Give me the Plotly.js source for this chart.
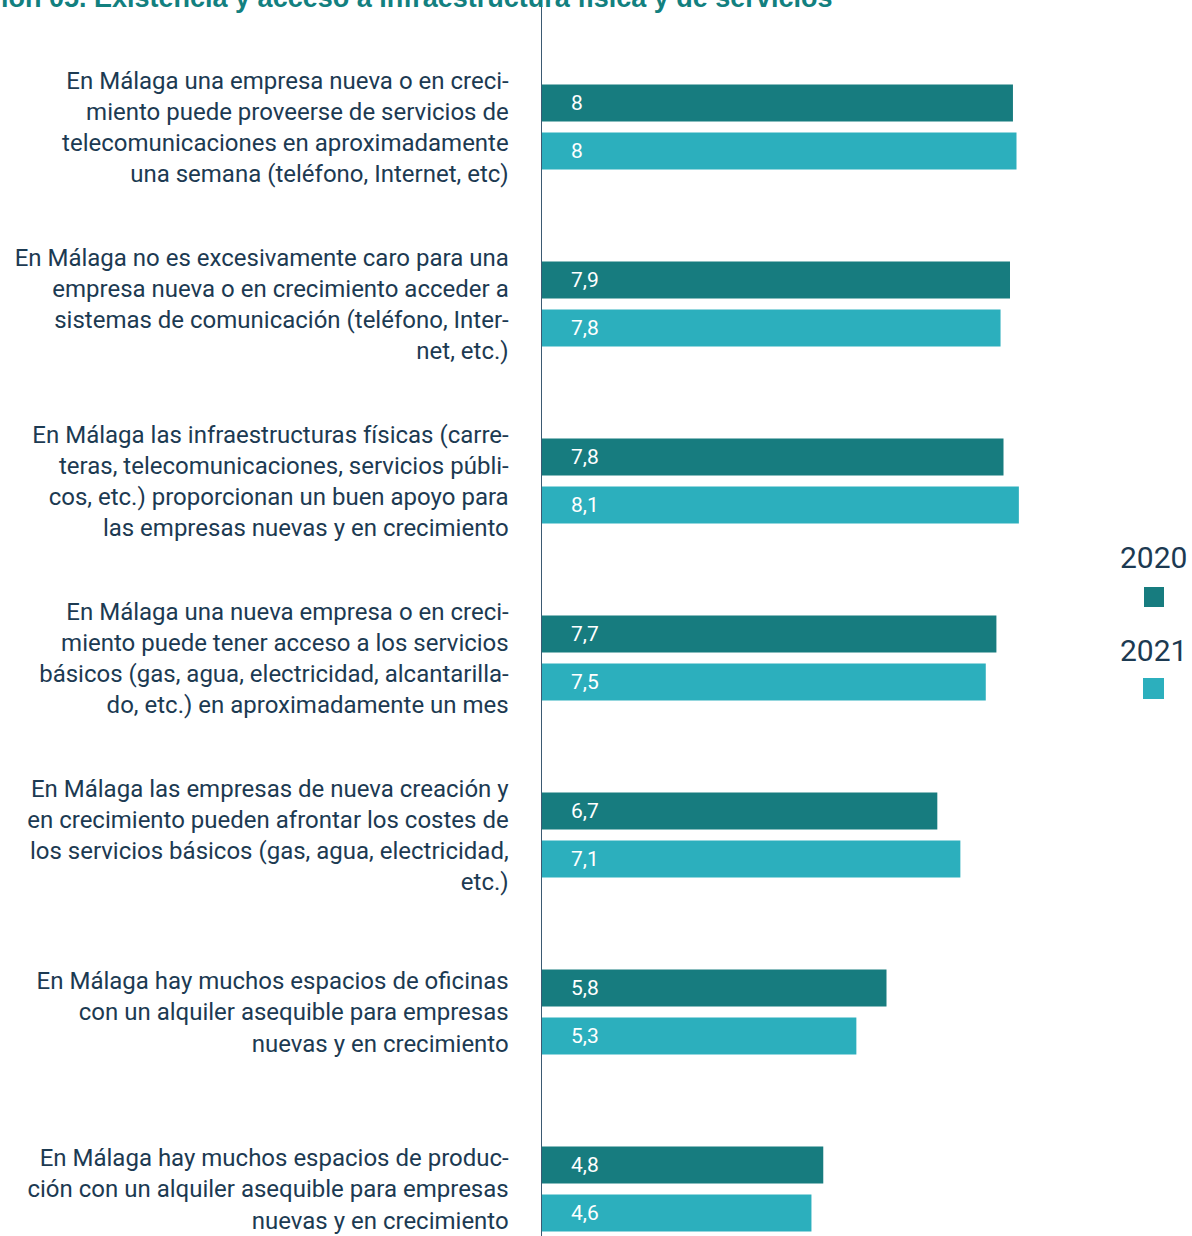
<!DOCTYPE html>
<html>
<head>
<meta charset="utf-8">
<script src="https://cdn.plot.ly/plotly-3.0.1.min.js"></script>
<style>
  html, body { margin: 0; padding: 0; background: #ffffff; }
  #chart { width: 1192px; height: 1236px; }
</style>
</head>
<body>
<div id="chart"></div>
<script>
// ---- data ----
const categories = [
  "En Málaga una empresa nueva o en creci-<br>miento puede proveerse de servicios de<br>telecomunicaciones en aproximadamente<br>una semana (teléfono, Internet, etc)",
  "En Málaga no es excesivamente caro para una<br>empresa nueva o en crecimiento acceder a<br>sistemas de comunicación (teléfono, Inter-<br>net, etc.)",
  "En Málaga las infraestructuras físicas (carre-<br>teras, telecomunicaciones, servicios públi-<br>cos, etc.) proporcionan un buen apoyo para<br>las empresas nuevas y en crecimiento",
  "En Málaga una nueva empresa o en creci-<br>miento puede tener acceso a los servicios<br>básicos (gas, agua, electricidad, alcantarilla-<br>do, etc.) en aproximadamente un mes",
  "En Málaga las empresas de nueva creación y<br>en crecimiento pueden afrontar los costes de<br>los servicios básicos (gas, agua, electricidad,<br>etc.)",
  "En Málaga hay muchos espacios de oficinas<br>con un alquiler asequible para empresas<br>nuevas y en crecimiento",
  "En Málaga hay muchos espacios de produc-<br>ción con un alquiler asequible para empresas<br>nuevas y en crecimiento"
];
const values2020 = [7.97, 7.92, 7.81, 7.69, 6.69, 5.83, 4.76];
const values2021 = [8.03, 7.76, 8.07, 7.51, 7.08, 5.32, 4.56];
const seriesNames = ["2020", "2021"];
const titleText = "ión 05. Existencia y acceso a infraestructura física y de servicios";

// ---- styles ----
const colors = ["#177c7f", "#2cafbd"];
const textColor = "#1c3a52";
const W = 1192, H = 1236, L = 542;

function fmt(v) {
  return "\u00a0\u00a0\u00a0\u00a0\u00a0" + (Math.round(v * 10) / 10).toString().replace(".", ",");
}

function barTrace(vals, name, color) {
  return {
    type: "bar",
    orientation: "h",
    name: name,
    y: categories,
    x: vals,
    text: vals.map(fmt),
    textposition: "inside",
    insidetextanchor: "start",
    constraintext: "none",
    textfont: { family: "Roboto, sans-serif", size: 21, color: "#ffffff" },
    marker: { color: color },
    hoverinfo: "skip",
    cliponaxis: false
  };
}

const data = [
  barTrace(values2020, seriesNames[0], colors[0]),
  barTrace(values2021, seriesNames[1], colors[1])
];

function px2x(px) { return (px - L) / (W - L); }
function py2y(py) { return 1 - py / H; }

const layout = {
  width: W,
  height: H,
  margin: { l: L, r: 0, t: 0, b: 0, pad: 0 },
  paper_bgcolor: "#ffffff",
  plot_bgcolor: "#ffffff",
  showlegend: false,
  barmode: "group",
  bargap: 0.458,
  bargroupgap: 0.23,
  font: { family: "Roboto, sans-serif", color: textColor },
  xaxis: {
    range: [0, 11.0],
    showgrid: false,
    zeroline: false,
    showticklabels: false,
    showline: false,
    ticks: ""
  },
  yaxis: {
    type: "category",
    range: [6.2655, -0.7175],
    showgrid: false,
    zeroline: false,
    showline: true,
    linecolor: "#3b5a72",
    linewidth: 1.5,
    ticks: "",
    ticklabelstandoff: 27,
    tickfont: { family: "Roboto, sans-serif", size: 24, color: textColor }
  },
  annotations: [
    {
      text: titleText,
      xref: "paper", yref: "paper",
      x: px2x(-1), y: py2y(-2),
      xanchor: "left", yanchor: "middle",
      showarrow: false,
      font: { family: "Liberation Sans Narrow, Arial Narrow, sans-serif", size: 27, color: "#12807f", weight: "bold" }
    },
    {
      text: seriesNames[0],
      xref: "paper", yref: "paper",
      x: px2x(1153), y: py2y(557),
      xanchor: "center", yanchor: "middle",
      showarrow: false,
      font: { family: "Roboto, sans-serif", size: 30, color: textColor }
    },
    {
      text: seriesNames[1],
      xref: "paper", yref: "paper",
      x: px2x(1153), y: py2y(650),
      xanchor: "center", yanchor: "middle",
      showarrow: false,
      font: { family: "Roboto, sans-serif", size: 30, color: textColor }
    }
  ],
  shapes: [
    {
      type: "rect", xref: "paper", yref: "paper",
      x0: px2x(1144), x1: px2x(1164), y0: py2y(607), y1: py2y(587),
      fillcolor: colors[0], line: { width: 0 }
    },
    {
      type: "rect", xref: "paper", yref: "paper",
      x0: px2x(1143), x1: px2x(1164), y0: py2y(699), y1: py2y(678),
      fillcolor: colors[1], line: { width: 0 }
    }
  ]
};

Plotly.newPlot("chart", data, layout, { displayModeBar: false, staticPlot: true });
</script>
</body>
</html>
